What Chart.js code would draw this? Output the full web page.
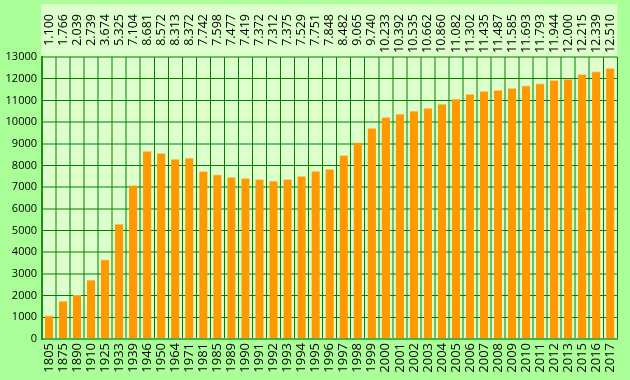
<!DOCTYPE html>
<html>
<head>
<meta charset="utf-8">
<script src="https://cdn.jsdelivr.net/npm/chart.js@4/dist/chart.umd.min.js"></script>
<style>
html,body{margin:0;padding:0;background:#aaff99;}
canvas{display:block;}
</style>
</head>
<body>
<canvas id="c" width="630" height="380"></canvas>
<script>
const years = ['1805','1875','1890','1910','1925','1933','1939','1946','1950','1964','1971','1981','1985','1989','1990','1991','1992','1993','1994','1995','1996','1997','1998','1999','2000','2001','2002','2003','2004','2005','2006','2007','2008','2009','2010','2011','2012','2013','2015','2016','2017'];
const values = [1100,1766,2039,2739,3674,5325,7104,8681,8572,8313,8372,7742,7598,7477,7419,7372,7312,7375,7529,7751,7848,8482,9065,9740,10233,10392,10535,10662,10860,11082,11302,11435,11487,11585,11693,11793,11944,12000,12215,12339,12510];
const valueLabels = ['1.100','1.766','2.039','2.739','3.674','5.325','7.104','8.681','8.572','8.313','8.372','7.742','7.598','7.477','7.419','7.372','7.312','7.375','7.529','7.751','7.848','8.482','9.065','9.740','10.233','10.392','10.535','10.662','10.860','11.082','11.302','11.435','11.487','11.585','11.693','11.793','11.944','12.000','12.215','12.339','12.510'];
const yMin = 0, yMax = 13000, yStep = 1000;

const OUTER = '#aaff99', INNER = '#ddffcc';
const FONT = "'Open Sans', sans-serif";

function lineStyle(pos){
  const f = pos - Math.floor(pos);
  return Math.abs(f - 0.5) < 0.25 ? {c:'#008000', w:1} : {c:'rgba(0,128,0,0.5)', w:2};
}
function xPos(ctx){
  const s = ctx.scale, n = years.length;
  const i = (ctx.index === undefined) ? n : ctx.index;
  return s.left + i * s.width / n;
}
function yPos(ctx){
  const s = ctx.scale;
  if (!ctx.tick) return s.top;
  return s.getPixelForValue(ctx.tick.value);
}

const bgPlugin = {
  id: 'bg',
  beforeDraw(chart){
    const c = chart.ctx, a = chart.chartArea;
    c.save();
    c.fillStyle = OUTER;
    c.fillRect(0,0,chart.width,chart.height);
    c.fillStyle = INNER;
    c.fillRect(a.left-1, 4, a.right - a.left + 1, a.bottom - 4);
    c.restore();
  },
  afterDraw(chart){
    const c = chart.ctx, xs = chart.scales.x;
    c.save();
    c.fillStyle = '#000';
    c.font = "12.5px " + FONT;
    c.textAlign = 'right';
    c.textBaseline = 'middle';
    valueLabels.forEach((t,i)=>{
      const x = xs.getPixelForValue(i);
      c.save();
      c.translate(x, 14);
      c.rotate(-Math.PI/2);
      c.fillText(t, 0, 0);
      c.restore();
    });
    c.restore();
  }
};

new Chart(document.getElementById('c'), {
  type: 'bar',
  data: {
    labels: years,
    datasets: [{
      data: values,
      backgroundColor: '#ff9900',
      borderColor: '#ffcc80',
      borderWidth: {top:1, left:0, right:0, bottom:0},
      borderSkipped: 'start',
      barPercentage: 0.6,
      categoryPercentage: 1.0
    }]
  },
  options: {
    responsive: false,
    animation: false,
    devicePixelRatio: 1,
    layout: {padding: {top: 57, right: 9, left: 0, bottom: 0}},
    plugins: {legend: {display:false}, tooltip: {enabled:false}},
    scales: {
      x: {
        offset: true,
        grid: {
          offset: true,
          drawTicks: false,
          color: ctx => lineStyle(xPos(ctx)).c,
          lineWidth: ctx => lineStyle(xPos(ctx)).w
        },
        border: {display: true, color: '#4caf4c', width: 2},
        ticks: {
          autoSkip: false,
          maxRotation: 90, minRotation: 90,
          padding: 4,
          color: '#000',
          font: {family: FONT, size: 13}
        },
        afterFit: s => { s.height = 41; }
      },
      y: {
        min: yMin, max: yMax,
        grid: {
          drawTicks: false,
          color: ctx => lineStyle(yPos(ctx)).c,
          lineWidth: ctx => lineStyle(yPos(ctx)).w
        },
        border: {display: true, color: '#1a8c1a', width: 2},
        ticks: {
          stepSize: yStep,
          padding: 5,
          color: '#000',
          font: {family: FONT, size: 11},
          callback: v => String(v)
        },
        afterFit: s => { s.width = 42; }
      }
    }
  },
  plugins: [bgPlugin]
});
</script>
</body>
</html>
